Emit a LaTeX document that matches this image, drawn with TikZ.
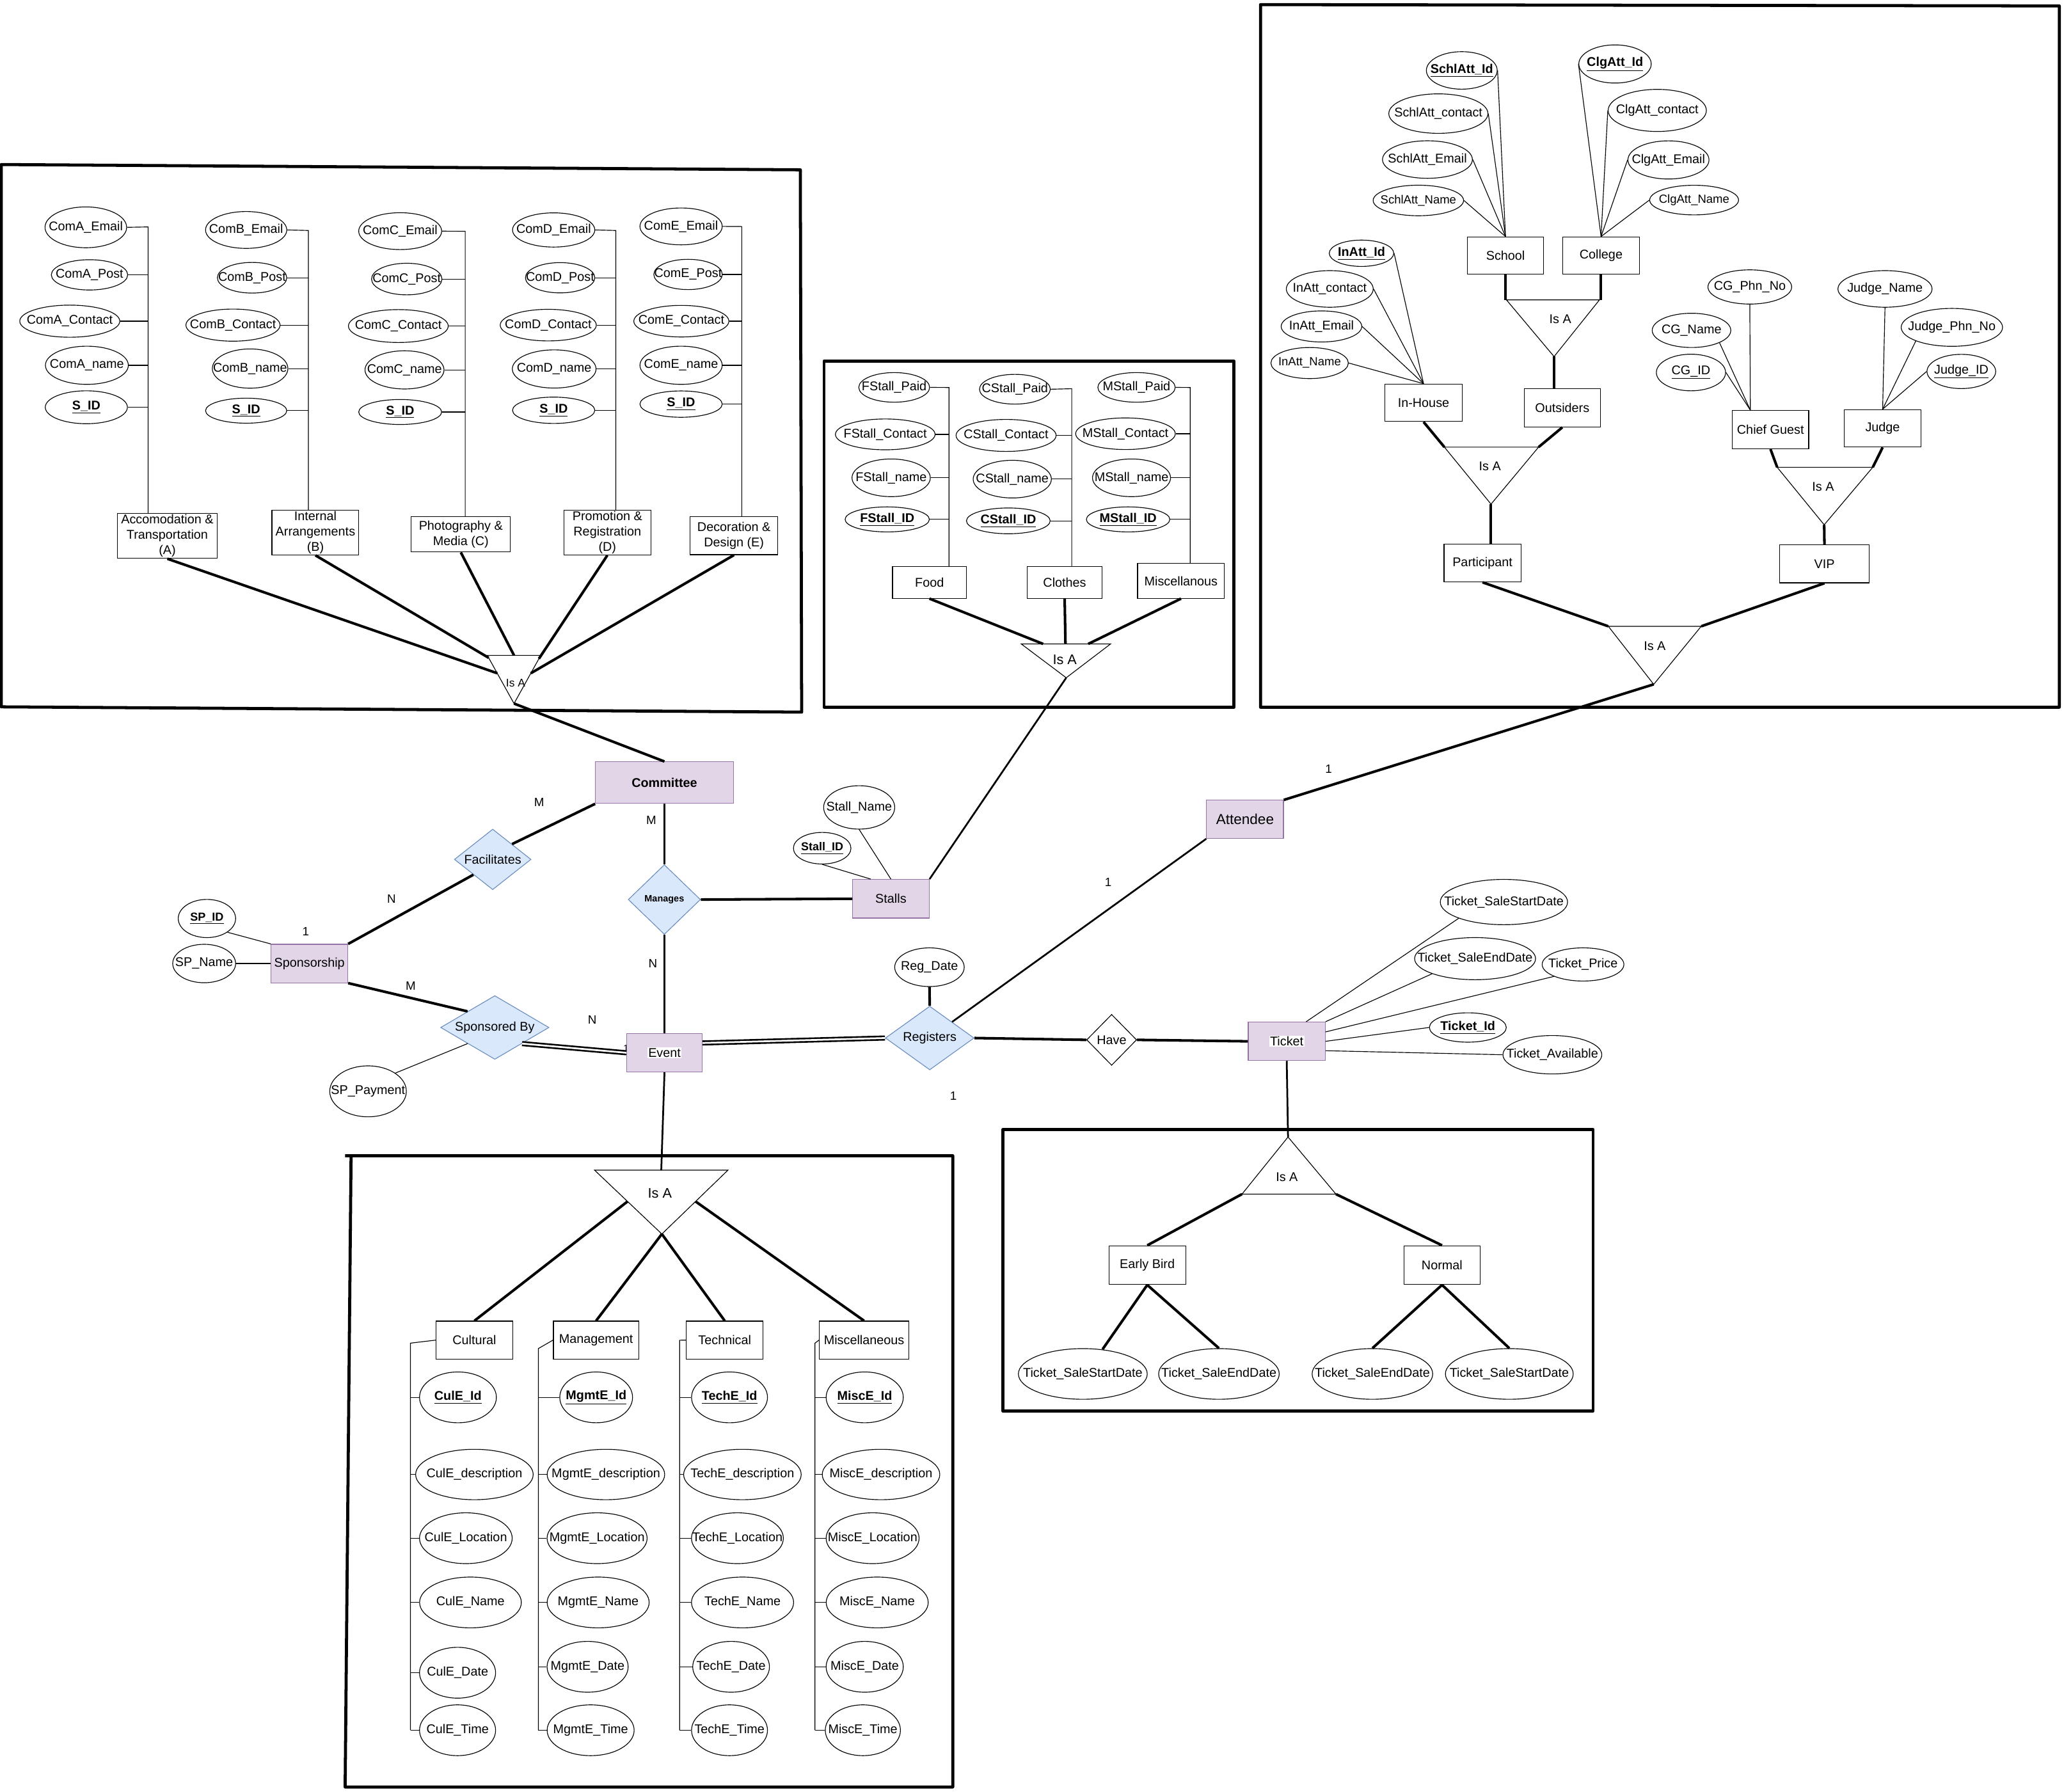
\documentclass[tikz,border=0pt]{standalone}
\usepackage{fontspec}
\setmainfont{Liberation Sans}
\usepackage{tikz}
\usetikzlibrary{shapes.geometric,calc,positioning}
\definecolor{entFill}{HTML}{E1D5E7}
\definecolor{entDraw}{HTML}{9673A6}
\definecolor{relFill}{HTML}{DAE8FC}
\definecolor{relDraw}{HTML}{6C8EBF}

\begin{document}
\begin{tikzpicture}[
        x=0.05cm, y=-0.05cm,
        every node/.style={font=\fontsize{13.7}{16.6}\selectfont, inner sep=0pt},
        zerotext/.style={execute at begin node={\hbox to 0pt\bgroup\hss}, execute at end node={\hss\egroup}},
        attr/.style 2 args={ellipse, draw, line width=0.8pt, minimum width=#1*0.05cm, minimum height=#2*0.05cm, zerotext},
        subbox/.style 2 args={rectangle, draw, line width=0.8pt, minimum width=#1*0.05cm, minimum height=#2*0.05cm, align=center},
        ent/.style 2 args={subbox={#1}{#2}, draw=entDraw, fill=entFill},
        rel/.style 2 args={diamond, draw=relDraw, fill=relFill, line width=0.8pt, minimum width=#1*0.05cm, minimum height=#2*0.05cm, zerotext},
        smalltext/.style={font=\fontsize{12.8}{15}\selectfont},
        isatext/.style={font=\fontsize{15}{18}\selectfont},
        cardn/.style={font=\fontsize{13}{15}\selectfont},
        link/.style={line width=0.8pt},
        medium/.style={line width=1.9pt},
        heavy/.style={line width=2.8pt},
        dbl/.style={double, line width=1.8pt, double distance=1.9pt},
        panel/.style={line width=3.3pt, line join=round}
    ]
    \fill[white, use as bounding box] (0,0) rectangle (1568,1361.4);

    \draw[panel] (1,125) -- (608,129) -- (609,541) -- (1,537) -- cycle;
    \node[attr={62}{31}] (aEmail) at (65.2,172.7) {ComA\_Email};
    \node[attr={58}{23}] (aPost) at (68,208.8) {ComA\_Post};
    \node[attr={76}{24.4}] (aContact) at (53,244) {ComA\_Contact};
    \node[attr={63}{29}] (aName) at (66,277.5) {ComA\_name};
    \node[attr={62.4}{25}] (aSid) at (65.6,309.4) {\underline{\textbf{S\_ID}}};
    \node[subbox={76}{34}] (aBox) at (127.1,407.2) {Accomodation \&\\Transportation\\(A)};
    \coordinate (aTop) at (112.5,172.4);
    \node[attr={61.7}{28}] (bEmail) at (187,174.7) {ComB\_Email};
    \node[attr={52.7}{23.3}] (bPost) at (191.5,211) {ComB\_Post};
    \node[attr={71.5}{24.4}] (bContact) at (177,247) {ComB\_Contact};
    \node[attr={57.4}{29.8}] (bName) at (190,280) {ComB\_name};
    \node[attr={61.7}{19}] (bSid) at (187,312) {\underline{\textbf{S\_ID}}};
    \node[subbox={66}{34}] (bBox) at (239.6,404.6) {Internal\\Arrangements\\(B)};
    \coordinate (bTop) at (234.3,175.1);
    \node[attr={63}{28}] (cEmail) at (304,175.6) {ComC\_Email};
    \node[attr={53.5}{24}] (cPost) at (309,212) {ComC\_Post};
    \node[attr={75.8}{25}] (cContact) at (302.6,247.7) {ComC\_Contact};
    \node[attr={60}{29}] (cName) at (307.3,281) {ComC\_name};
    \node[attr={63}{19}] (cSid) at (304,313) {\underline{\textbf{S\_ID}}};
    \node[subbox={75.4}{27}] (cBox) at (350.1,405.9) {Photography \&\\Media (C)};
    \coordinate (cTop) at (353.4,175.7);
    \node[attr={62.5}{26}] (dEmail) at (420.6,174.7) {ComD\_Email};
    \node[attr={52.7}{23}] (dPost) at (425.5,211) {ComD\_Post};
    \node[attr={73}{24}] (dContact) at (416.5,247) {ComD\_Contact};
    \node[attr={63.6}{29}] (dName) at (421,280.3) {ComD\_name};
    \node[attr={62.5}{20}] (dSid) at (420.6,311.7) {\underline{\textbf{S\_ID}}};
    \node[subbox={66}{34}] (dBox) at (461.4,404.6) {Promotion \&\\Registration\\(D)};
    \coordinate (dTop) at (467.8,175.1);
    \node[attr={62.5}{28}] (eEmail) at (517.4,172) {ComE\_Email};
    \node[attr={52}{23}] (ePost) at (522.7,208.5) {ComE\_Post};
    \node[attr={72.2}{24}] (eContact) at (517.6,244) {ComE\_Contact};
    \node[attr={62.5}{29}] (eName) at (517.4,277.5) {ComE\_name};
    \node[attr={62.5}{20}] (eSid) at (517.4,307) {\underline{\textbf{S\_ID}}};
    \node[subbox={66.4}{29}] (eBox) at (557.6,406.9) {Decoration \&\\Design (E)};
    \coordinate (eTop) at (563.5,172.1);
    \foreach \k in {a,b,c,d,e} {
        \draw[link] (\k Email.east) -- (\k Top) -- (\k Top |- \k Box.north);
        \foreach \n in {Post,Contact,Name,Sid} \draw[link] (\k\n.east) -- (\k\n.east -| \k Top);
    }
    \coordinate (cisL) at (370.2,497.9);
    \coordinate (cisR) at (410.8,497.9);
    \coordinate (cisB) at (390.5,534.5);
    \draw[link] (cisL) -- (cisR) -- (cisB) -- cycle;
    \node[font=\fontsize{12}{14}\selectfont] (cisa) at (391.7,519) {Is A};
    \draw[heavy] (aBox.south) -- ($(cisL)!0.37!(cisB)$);
    \draw[heavy] (bBox.south) -- ($(cisL)!0.05!(cisB)$);
    \draw[heavy] (cBox.south) -- ($(cisL)!0.5!(cisR)$);
    \draw[heavy] (dBox.south) -- ($(cisR)!0.07!(cisB)$);
    \draw[heavy] (eBox.south) -- ($(cisR)!0.37!(cisB)$);

    \draw[panel] (626,274.3) rectangle (937.4,537.3);
    \node[attr={53.8}{22.5}] (fsPaid) at (679.3,294.3) {FStall\_Paid};
    \node[attr={75.7}{23.4}] (fsContact) at (672.5,330) {FStall\_Contact};
    \node[attr={59.5}{28.6}] (fsName) at (677,363) {FStall\_name};
    \node[attr={64}{19}] (fsId) at (674,394.6) {\underline{\textbf{FStall\_ID}}};
    \node[subbox={56.2}{24}] (fsBox) at (706.1,442.5) {Food};
    \coordinate (fsTop) at (720.9,294.4);
    \node[attr={53.8}{22.6}] (csPaid) at (771,295.7) {CStall\_Paid};
    \node[attr={76}{24.3}] (csContact) at (764.3,330.8) {CStall\_Contact};
    \node[attr={59.4}{28.6}] (csName) at (769,364) {CStall\_name};
    \node[attr={63.6}{19.6}] (csId) at (766,395.7) {\underline{\textbf{CStall\_ID}}};
    \node[subbox={56.6}{24}] (csBox) at (808.8,442.5) {Clothes};
    \coordinate (csTop) at (814.2,295.3);
    \node[attr={58.8}{22.5}] (msPaid) at (863.4,294.3) {MStall\_Paid};
    \node[attr={75.7}{24}] (msContact) at (855,329.5) {MStall\_Contact};
    \node[attr={59.3}{28.6}] (msName) at (859.6,363) {MStall\_name};
    \node[attr={63.4}{19}] (msId) at (857,394.6) {\underline{\textbf{MStall\_ID}}};
    \node[subbox={66.1}{26.4}] (msBox) at (897.2,441.3) {Miscellanous};
    \coordinate (msTop) at (904.2,294.4);
    \foreach \k in {fs,cs,ms} {
        \draw[link] (\k Paid.east) -- (\k Top) -- (\k Top |- \k Box.north);
        \foreach \n in {Contact,Name,Id} \draw[link] (\k\n.east) -- (\k\n.east -| \k Top);
    }
    \coordinate (sisL) at (775.8,489.2);
    \coordinate (sisR) at (843.7,489.2);
    \coordinate (sisB) at (810,514.9);
    \draw[link] (sisL) -- (sisR) -- (sisB) -- cycle;
    \node[isatext] (sisa) at (808.9,501.4) {Is A};
    \draw[heavy] (fsBox.south) -- ($(sisL)!0.245!(sisR)$);
    \draw[heavy] (csBox.south) -- ($(sisL)!0.495!(sisR)$);
    \draw[heavy] (msBox.south) -- ($(sisL)!0.75!(sisR)$);

    \draw[panel] (957.6,3.5) -- (1564.4,4.5) -- (1564.4,537.3) -- (957.6,537.3) -- cycle;
    \node[subbox={58.1}{28.5}] (school) at (1143.7,194.2) {School};
    \node[subbox={58.1}{28.5}] (college) at (1216.3,194.2) {College};
    \node[attr={53.8}{28.5}] (schId) at (1110.5,53.5) {\underline{\textbf{SchlAtt\_Id}}};
    \node[attr={75.3}{30}] (schContact) at (1092.7,86.3) {SchlAtt\_contact};
    \node[attr={68.3}{28.5}] (schEmail) at (1084.4,121.2) {SchlAtt\_Email};
    \node[attr={68.7}{23.2}, smalltext] (schName) at (1077.5,152.3) {SchlAtt\_Name};
    \node[attr={55}{29}] (clgId) at (1226.9,48.6) {\underline{\textbf{ClgAtt\_Id}}};
    \node[attr={74.6}{32}] (clgContact) at (1259,83.9) {ClgAtt\_contact};
    \node[attr={61.6}{29}] (clgEmail) at (1267.5,121.5) {ClgAtt\_Email};
    \node[attr={67.5}{22.5}, smalltext] (clgName) at (1287,152) {ClgAtt\_Name};
    \foreach \n in {schId,schContact,schEmail,schName} \draw[link] (\n.east) -- (school.north);
    \foreach \n in {clgId,clgContact,clgEmail,clgName} \draw[link] (\n.west) -- (college.north);
    \coordinate (ssL) at (1144.4,227.8);
    \coordinate (ssR) at (1215.1,227.8);
    \coordinate (ssB) at (1180.6,270.9);
    \draw[link] (ssL) -- (ssR) -- (ssB) -- cycle;
    \node (ssisa) at (1185.3,242.4) {Is A};
    \node[subbox={58.5}{28.5}] (inhouse) at (1081.45,306) {In-House};
    \node[subbox={58.1}{29.2}] (outsiders) at (1186.85,309.8) {Outsiders};
    \node[attr={49}{20}] (inId) at (1034.3,192.4) {\underline{\textbf{InAtt\_Id}}};
    \node[attr={66}{27.8}] (inContact) at (1010.2,219.5) {InAtt\_contact};
    \node[attr={61.2}{23.6}] (inEmail) at (1003.9,248) {InAtt\_Email};
    \node[attr={58.8}{23.6}, smalltext] (inName) at (994.9,275.8) {InAtt\_Name};
    \foreach \n in {inId,inContact,inEmail,inName} \draw[link] (\n.east) -- (inhouse.north);
    \coordinate (ioL) at (1097.3,339.7);
    \coordinate (ioR) at (1168.8,339.7);
    \coordinate (ioB) at (1132.7,383);
    \draw[link] (ioL) -- (ioR) -- (ioB) -- cycle;
    \node (ioisa) at (1131.9,354.2) {Is A};
    \node[subbox={58.4}{28.8}] (participant) at (1126.2,427.7) {Participant};
    \node[subbox={58.1}{29.1}] (chief) at (1345,326.4) {Chief Guest};
    \node[subbox={58}{28.5}] (judge) at (1430.2,325.4) {Judge};
    \node[attr={63.6}{26}] (cgPhn) at (1329.3,218) {CG\_Phn\_No};
    \node[attr={59.7}{26}] (cgName) at (1285,251) {CG\_Name};
    \node[attr={52.6}{27.8}] (cgId) at (1284.6,283) {\underline{CG\_ID}};
    \coordinate (cgTop) at ($(chief.north)+(-15.3,0)$);
    \draw[link] (cgPhn.south) -- (cgTop);
    \draw[link] (cgName.south east) -- (cgTop);
    \draw[link] (cgId.east) -- (cgTop);
    \node[attr={71.5}{27.8}] (jName) at (1432,219.5) {Judge\_Name};
    \node[attr={77}{28.8}] (jPhn) at (1482.8,248.7) {Judge\_Phn\_No};
    \node[attr={52.2}{26}] (jId) at (1490,282.2) {\underline{Judge\_ID}};
    \draw[link] (jName.south) -- (judge.north);
    \draw[link] (jPhn.south west) -- (judge.north);
    \draw[link] (jId.west) -- (judge.north);
    \coordinate (vL) at (1350.1,355);
    \coordinate (vR) at (1422.7,355);
    \coordinate (vB) at (1385.8,398.7);
    \draw[link] (vL) -- (vR) -- (vB) -- cycle;
    \node (visa) at (1385,369.9) {Is A};
    \node[subbox={67.9}{28.8}] (vip) at (1386,428.4) {VIP};
    \coordinate (pL) at (1221.8,475.8);
    \coordinate (pR) at (1292.4,475.8);
    \coordinate (pB) at (1256.3,519.9);
    \draw[link] (pL) -- (pR) -- (pB) -- cycle;
    \node (pisa) at (1257.1,490.7) {Is A};
    \draw[heavy] (school.south) -- (school.south |- ssL);
    \draw[heavy] (college.south) -- (college.south |- ssR);
    \draw[heavy] (ssB) -- (ssB |- outsiders.north);
    \draw[heavy] (inhouse.south) -- (ioL);
    \draw[heavy] (outsiders.south) -- (ioR);
    \draw[heavy] (ioB) -- (ioB |- participant.north);
    \draw[heavy] (chief.south) -- (vL);
    \draw[heavy] (judge.south) -- (vR);
    \draw[heavy] (vB) -- (vip.north);
    \draw[heavy] (participant.south) -- (pL);
    \draw[heavy] (vip.south) -- (pR);

    \node[cardn, font=\fontsize{10}{12}\selectfont] (oEvt) at (475.5,796.5) {1};
    \node[ent={104.7}{31.6}] (committee) at (504.75,594.6) {\textbf{Committee}};
    \node[rel={58.2}{46}] (facil) at (374.3,652.9) {Facilitates};
    \node[rel={54.9}{53}, font=\fontsize{10}{12}\selectfont] (manages) at (504.7,683.4) {\textbf{Manages}};
    \node[ent={58.2}{29.3}] (stalls) at (676.8,682.8) {Stalls};
    \node[attr={54}{33}] (stallName) at (652.7,613.4) {Stall\_Name};
    \node[attr={43.7}{24}, font=\fontsize{12.4}{14}\selectfont] (stallId) at (624.6,644.4) {\underline{\textbf{Stall\_ID}}};
    \node[ent={58.2}{29.2}] (sponsorship) at (235.1,732) {Sponsorship};
    \node[attr={43.6}{29}, font=\fontsize{12.5}{14}\selectfont] (spId) at (157.2,697.8) {\underline{\textbf{SP\_ID}}};
    \node[attr={47.8}{29.2}] (spName) at (155.1,732) {SP\_Name};
    \node[rel={82.3}{48.4}] (sponsoredBy) at (375.9,780.6) {Sponsored By};
    \node[attr={58.2}{38.7}] (spPayment) at (279.6,829.1) {SP\_Payment};
    \node[ent={57.3}{29.2}] (event) at (504.8,799.8) {\fboxsep=1pt\colorbox{white}{Event}};
    \node[rel={67.4}{48.4}] (registers) at (706.3,788.6) {Registers};
    \node[attr={52.8}{29.4}] (regDate) at (706.1,734.8) {Reg\_Date};
    \node[ent={58.4}{29}, font=\fontsize{15.6}{18}\selectfont] (attendee) at (945.8,622.5) {Attendee};
    \node[rel={38}{38.7}, draw=black, fill=white] (have) at (844.5,790) {Have};
    \node[ent={58.4}{29.2}] (ticket) at (977.5,791.1) {\fboxsep=1pt\colorbox{white}{Ticket}};
    \node[attr={96.7}{34.4}] (tStart) at (1142.5,685.3) {Ticket\_SaleStartDate};
    \node[attr={91.9}{32}] (tEnd) at (1120.6,728.3) {Ticket\_SaleEndDate};
    \node[attr={62.1}{25.2}] (tPrice) at (1202.6,732.7) {Ticket\_Price};
    \node[attr={58.4}{22.3}] (tId) at (1115.1,780.6) {\underline{\textbf{Ticket\_Id}}};
    \node[attr={75.1}{29.2}] (tAvail) at (1179.3,801.3) {Ticket\_Available};
    \node[cardn] (mFac) at (409.6,609.5) {M};
    \node[cardn] (mMan) at (494.8,623.1) {M};
    \node[cardn] (nFac) at (297.4,683) {N};
    \node[cardn] (oSpo) at (232.2,707.5) {1};
    \node[cardn] (mSpo) at (312,749) {M};
    \node[cardn] (nSpo) at (449.9,774.6) {N};
    \node[cardn] (nMan) at (496,732.2) {N};
    \node[cardn] (oReg) at (724.2,832.7) {1};
    \node[cardn] (oAtt) at (1009.3,584) {1};
    \node[cardn] (oRegAtt) at (841.9,670.3) {1};
    \draw[heavy] (committee.south west) -- (facil.north east);
    \draw[heavy] (facil.south west) -- (sponsorship.north east);
    \draw[medium] (committee.south) -- (manages.north);
    \draw[heavy] (manages.east) -- (stalls.west);
    \draw[medium] (manages.south) -- (event.north);
    \draw[link] (stallId.south) -- ($(stalls.north west)!0.24!(stalls.north east)$);
    \draw[link] (stallName.south) -- (stalls.north);
    \draw[link] (spId.south east) -- (sponsorship.north west);
    \draw[link] (spName.east) -- (sponsorship.west);
    \draw[heavy] (sponsorship.south east) -- (sponsoredBy.north west);
    \draw[link] (spPayment.north east) -- (sponsoredBy.south west);
    \draw[dbl] (sponsoredBy.south east) -- (event.west);
    \draw[dbl] ($(event.north east)!0.25!(event.south east)$) -- (registers.west);
    \draw[heavy] (regDate.south) -- (registers.north);
    \draw[medium] (registers.north east) -- (attendee.south west);
    \draw[heavy] (registers.east) -- (have.west);
    \draw[heavy] (have.east) -- (ticket.west);
    \draw[link] (tStart.south west) -- ($(ticket.north west)!0.75!(ticket.north east)$);
    \draw[link] (tEnd.south west) -- (ticket.north east);
    \draw[link] (tPrice.south west) -- ($(ticket.north east)!0.26!(ticket.south east)$);
    \draw[link] (tId.west) -- (ticket.east);
    \draw[link] (tAvail.west) -- ($(ticket.north east)!0.74!(ticket.south east)$);
    \draw[heavy] (cisB) -- (committee.north);
    \draw[medium] (sisB) -- (stalls.north east);
    \draw[heavy] (pB) -- (attendee.north east);

    \draw[panel] (262.2,878) -- (723.8,878) -- (723.8,1357.6) -- (262.2,1357.6) -- (266.7,878);
    \coordinate (eL) at (451.7,889);
    \coordinate (eR) at (553,889);
    \coordinate (eB) at (502.8,937.5);
    \draw[link] (eL) -- (eR) -- (eB) -- cycle;
    \node[isatext] (eisa) at (501.3,906.5) {Is A};
    \draw[medium] (event.south) -- ($(eL)!0.5!(eR)$);
    \node[subbox={58}{28.8}] (culBox) at (360.4,1018.1) {Cultural};
    \node[subbox={64.9}{28.8}] (mgBox) at (452.85,1018.1) {Management};
    \node[subbox={58.3}{28.8}] (teBox) at (550.55,1018.1) {Technical};
    \node[subbox={67.9}{28.8}] (miBox) at (656.45,1018.1) {Miscellaneous};
    \draw[heavy] ($(eL)!0.49!(eB)$) -- (culBox.north);
    \draw[heavy] (eB) -- (mgBox.north);
    \draw[heavy] (eB) -- (teBox.north);
    \draw[heavy] ($(eR)!0.49!(eB)$) -- (miBox.north);
    \coordinate (culTop) at (311.8,1020.4);
    \coordinate (mgTop) at (409,1024.5);
    \coordinate (teTop) at (516.3,1018.2);
    \coordinate (miTop) at (619.1,1020.4);
    \node[attr={58.4}{38.6}] (culId) at (347.9,1061.6) {\underline{\textbf{CulE\_Id}}};
    \node[attr={89.3}{38.3}] (culDesc) at (360.4,1120.2) {CulE\_description};
    \node[attr={70.4}{38.6}] (culLoc) at (353.9,1168.6) {CulE\_Location};
    \node[attr={77.3}{38.6}] (culName) at (357.4,1217.4) {CulE\_Name};
    \node[attr={57.8}{38.6}] (culDate) at (347.6,1270.8) {CulE\_Date};
    \node[attr={57.8}{38.6}] (culTime) at (347.6,1314.5) {CulE\_Time};
    \node[attr={55.3}{38.6}] (mgId) at (452.9,1061.6) {\underline{\textbf{MgmtE\_Id}}};
    \node[attr={89.3}{38.3}] (mgDesc) at (460.3,1120.2) {MgmtE\_description};
    \node[attr={76}{38.6}] (mgLoc) at (453.6,1168.6) {MgmtE\_Location};
    \node[attr={77.5}{38.6}] (mgName) at (454.4,1217.4) {MgmtE\_Name};
    \node[attr={61.6}{38.6}] (mgDate) at (446.4,1266.3) {MgmtE\_Date};
    \node[attr={66.1}{38.6}] (mgTime) at (448.7,1314.5) {MgmtE\_Time};
    \node[attr={57.7}{38.6}] (teId) at (554.2,1061.6) {\underline{\textbf{TechE\_Id}}};
    \node[attr={89.3}{38.3}] (teDesc) at (564,1120.2) {TechE\_description};
    \node[attr={69.8}{38.6}] (teLoc) at (560.2,1168.6) {TechE\_Location};
    \node[attr={77.6}{38.6}] (teName) at (564.1,1217.4) {TechE\_Name};
    \node[attr={58.3}{38.6}] (teDate) at (555.4,1266.3) {TechE\_Date};
    \node[attr={57.7}{38.6}] (teTime) at (554.2,1314.5) {TechE\_Time};
    \node[attr={58.6}{38.6}] (miId) at (656.9,1061.6) {\underline{\textbf{MiscE\_Id}}};
    \node[attr={89.3}{38.3}] (miDesc) at (669.3,1120.2) {MiscE\_description};
    \node[attr={70.6}{38.6}] (miLoc) at (662.9,1168.6) {MiscE\_Location};
    \node[attr={77.5}{38.6}] (miName) at (666.4,1217.4) {MiscE\_Name};
    \node[attr={58.6}{38.6}] (miDate) at (656.9,1266.3) {MiscE\_Date};
    \node[attr={57.1}{38.6}] (miTime) at (655.5,1314.5) {MiscE\_Time};
    \foreach \k in {cul,mg,te,mi} {
        \draw[link] (\k Box.west) -- (\k Top) -- (\k Top |- \k Time.west);
        \foreach \n in {Id,Desc,Loc,Name,Date,Time} \draw[link] (\k\n.west) -- (\k\n.west -| \k Top);
    }

    \draw[panel] (761.9,858.1) rectangle (1210.2,1071.9);
    \coordinate (tkA) at (978.5,863.8);
    \coordinate (tkL) at (943.5,907.2);
    \coordinate (tkR) at (1014.9,907.2);
    \draw[link] (tkA) -- (tkR) -- (tkL) -- cycle;
    \node (tkisa) at (977.6,894.2) {Is A};
    \draw[medium] (ticket.south) -- (tkA);
    \node[subbox={58.3}{29.5}] (early) at (871.55,961.15) {Early Bird};
    \node[subbox={58}{29.5}] (normal) at (1095.5,961.15) {Normal};
    \node[attr={97.9}{38.5}] (ebStart) at (822.6,1043.8) {Ticket\_SaleStartDate};
    \node[attr={91.6}{38.5}] (ebEnd) at (926,1043.8) {Ticket\_SaleEndDate};
    \node[attr={91.6}{38.5}] (nEnd) at (1042.6,1043.8) {Ticket\_SaleEndDate};
    \node[attr={97.1}{38.5}] (nStart) at (1146.6,1043.8) {Ticket\_SaleStartDate};
    \draw[heavy] (tkL) -- (early.north);
    \draw[heavy] (tkR) -- (normal.north);
    \draw[heavy] (early.south) -- ($(ebStart.north)+(15,0.8)$);
    \draw[heavy] (early.south) -- (ebEnd.north);
    \draw[heavy] (normal.south) -- (nEnd.north);
    \draw[heavy] (normal.south) -- (nStart.north);
\end{tikzpicture}
\end{document}
